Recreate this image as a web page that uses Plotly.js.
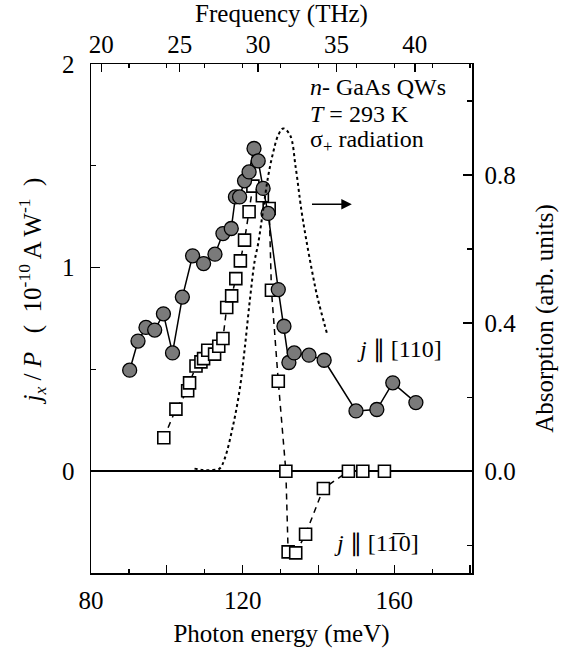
<!DOCTYPE html>
<html>
<head>
<meta charset="utf-8">
<script src="https://cdn.plot.ly/plotly-3.0.1.min.js"></script>
<style>html,body{margin:0;padding:0;background:#fff;}#chart{width:570px;height:652px;}</style>
</head>
<body>
<div id="chart"></div>
<script>
// j || [110] (filled circles)
const energyCirc = [90.2, 92.4, 94.5, 96.8, 99.1, 101.5, 104.1, 106.8, 109.7, 112.7, 114.8, 117.0, 118.1, 119.2, 120.5, 121.7, 123.0, 124.1, 125.4, 126.7, 129.4, 130.9, 132.2, 133.6, 137.5, 141.5, 149.9, 155.4, 159.6, 165.7];
const jCirc = [0.496, 0.639, 0.706, 0.693, 0.773, 0.581, 0.855, 1.058, 1.02, 1.066, 1.167, 1.192, 1.347, 1.347, 1.426, 1.47, 1.585, 1.524, 1.389, 1.266, 0.892, 0.712, 0.534, 0.581, 0.57, 0.545, 0.296, 0.303, 0.434, 0.337];
// j || [1-10] (open squares)
const energySq = [99.2, 102.4, 105.5, 106.0, 107.7, 109.0, 109.7, 110.8, 112.6, 113.7, 114.8, 115.8, 117.1, 118.2, 119.4, 120.5, 121.7, 122.7, 125.2, 127.0, 127.6, 129.4, 131.4, 132.0, 134.0, 136.6, 141.3, 147.9, 151.7, 157.4];
const jSq = [0.164, 0.305, 0.395, 0.434, 0.517, 0.537, 0.553, 0.594, 0.575, 0.614, 0.652, 0.804, 0.861, 0.946, 1.033, 1.135, 1.274, 1.40, 1.353, 1.29, 0.889, 0.442, 0.0, -0.396, -0.401, -0.31, -0.085, 0.0, 0.0, 0.0];
// absorption (dotted)
const energyAbs = [107.3, 109.5, 111.5, 113.9, 115.2, 117.4, 119.2, 120.5, 121.9, 123.2, 124.1, 125.4, 126.7, 128.0, 129.4, 130.7, 132.5, 134.0, 135.5, 136.8, 138.6, 139.7, 142.3];
const absorption = [0.007, 0.003, 0.003, 0.007, 0.032, 0.12, 0.219, 0.327, 0.462, 0.57, 0.615, 0.705, 0.795, 0.859, 0.908, 0.926, 0.908, 0.82, 0.705, 0.624, 0.525, 0.471, 0.37];
// axis ticks
const energyTicks = [80, 100, 120, 140, 160, 180];
const energyTickText = ['80', '', '120', '', '160', ''];
const freqTicks = [20, 25, 30, 35, 40];
const jTicks = [0, 1, 2];
const absTicks = [0, 0.4, 0.8];
const meVperTHz = 4.1357;
const xRange = [80, 180.5];
const freqRange = [xRange[0] / meVperTHz, xRange[1] / meVperTHz];

const FONT = '"Liberation Serif", "Times New Roman", serif';
const FS = 25;
const FA = 24;

const traces = [
  {x: energyAbs, y: absorption, xaxis: 'x', yaxis: 'y2', mode: 'lines', type: 'scatter',
   line: {color: '#000', width: 2, dash: 'dot', shape: 'spline'}, hoverinfo: 'skip'},
  {x: energySq, y: jSq, xaxis: 'x', yaxis: 'y', mode: 'lines+markers', type: 'scatter',
   line: {color: '#000', width: 1.5, dash: '6px,5px'},
   marker: {symbol: 'square', size: 12, color: '#fff', line: {color: '#000', width: 1.6}}},
  {x: energyCirc, y: jCirc, xaxis: 'x', yaxis: 'y', mode: 'lines+markers', type: 'scatter',
   line: {color: '#000', width: 1.5},
   marker: {symbol: 'circle', size: 14, color: '#7a7a7a', line: {color: '#000', width: 1.3}}},
  // invisible carriers so the top axes get drawn
  {x: freqRange, y: [null, null], xaxis: 'x2', yaxis: 'y', mode: 'markers', type: 'scatter', hoverinfo: 'skip', marker: {opacity: 0}},
  {x: xRange, y: [null, null], xaxis: 'x3', yaxis: 'y', mode: 'markers', type: 'scatter', hoverinfo: 'skip', marker: {opacity: 0}}
];

const layout = {
  width: 570, height: 652,
  margin: {l: 91, r: 98, t: 64, b: 79},
  paper_bgcolor: '#fff', plot_bgcolor: '#fff',
  showlegend: false,
  font: {family: FONT, size: FS, color: '#000'},
  xaxis: {
    range: xRange, tickvals: energyTicks, ticktext: energyTickText,
    ticks: 'inside', ticklen: 8, tickwidth: 1.3, tickcolor: '#000',
    minor: {dtick: 10, ticklen: 4, tickwidth: 1.3, tickcolor: '#000', ticks: 'inside'},
    showline: true, linecolor: '#000', linewidth: 1.5, showgrid: false, zeroline: false,
    title: {text: 'Photon energy (meV)', font: {family: FONT, size: FS}, standoff: 12},
    tickfont: {family: FONT, size: FS}, ticklabelstandoff: 4
  },
  xaxis2: {
    overlaying: 'x', side: 'top', anchor: 'y',
    range: freqRange,
    tickvals: freqTicks, ticks: 'inside', ticklen: 8, tickwidth: 1.3, tickcolor: '#000',
    showline: true, linecolor: '#000', linewidth: 1.5, showgrid: false, zeroline: false,
    title: {text: 'Frequency (THz)', font: {family: FONT, size: FS}, standoff: 4},
    tickfont: {family: FONT, size: FS}
  },
  xaxis3: {
    overlaying: 'x', side: 'top', anchor: 'y', range: xRange,
    dtick: 10, tick0: 80, ticks: 'inside', ticklen: 4, tickwidth: 1.3, tickcolor: '#000',
    showticklabels: false, showline: false, showgrid: false, zeroline: false
  },
  yaxis: {
    range: [-0.5, 2], tickvals: jTicks,
    ticks: 'inside', ticklen: 9, tickwidth: 1.3, tickcolor: '#000',
    minor: {dtick: 0.5, ticklen: 5, tickwidth: 1.3, tickcolor: '#000', ticks: 'inside'},
    showline: true, linecolor: '#000', linewidth: 1.5, showgrid: false,
    zeroline: true, zerolinecolor: '#000', zerolinewidth: 1.8,
    tickfont: {family: FONT, size: FS}, ticklabelstandoff: 10
  },
  yaxis2: {
    overlaying: 'y', side: 'right', anchor: 'x',
    range: [-0.275, 1.1], tickvals: absTicks, tickformat: '.1f',
    ticks: 'inside', ticklen: 9, tickwidth: 1.3, tickcolor: '#000',
    minor: {dtick: 0.2, ticklen: 5, tickwidth: 1.3, tickcolor: '#000', ticks: 'inside'},
    showline: true, linecolor: '#000', linewidth: 1.5, showgrid: false, zeroline: false,
    title: {text: 'Absorption (arb. units)', font: {family: FONT, size: FS}, standoff: 20},
    tickfont: {family: FONT, size: FS}, ticklabelstandoff: 6
  },
  annotations: [
    {x: -0.155, y: 0.555, xref: 'paper', yref: 'paper', textangle: -90, showarrow: false, xanchor: 'center', yanchor: 'middle',
     text: '<i>j</i><sub><i>x</i></sub> / <i>P</i>\u00A0\u00A0 (\u00A0 10<sup>-10</sup> A W<sup>-1</sup>\u00A0 )', font: {family: FONT, size: FS}},
    {x: 137.2, y: 1.885, xref: 'x', yref: 'y', text: '<i>n</i>- GaAs QWs', showarrow: false, xanchor: 'left', yanchor: 'middle', font: {family: FONT, size: FA}},
    {x: 137.2, y: 1.755, xref: 'x', yref: 'y', text: '<i>T</i> = 293 K', showarrow: false, xanchor: 'left', yanchor: 'middle', font: {family: FONT, size: FA}},
    {x: 137.2, y: 1.62, xref: 'x', yref: 'y', text: 'σ<sub>+</sub> radiation', showarrow: false, xanchor: 'left', yanchor: 'middle', font: {family: FONT, size: FA}},
    {x: 148.8, y: 1.311, ax: 137.9, ay: 1.311, xref: 'x', yref: 'y', axref: 'x', ayref: 'y', text: '', showarrow: true, arrowhead: 2, arrowsize: 1.4, arrowwidth: 1.5, arrowcolor: '#000'},
    {x: 161.5, y: 0.6, xref: 'x', yref: 'y', text: '<i>j</i> ∥ [110]', showarrow: false, xanchor: 'center', yanchor: 'middle', font: {family: FONT, size: FA}},
    {x: 155.4, y: -0.354, xref: 'x', yref: 'y', text: '<i>j</i> ∥ [11\u03050]', showarrow: false, xanchor: 'center', yanchor: 'middle', font: {family: FONT, size: FA}}
  ]
};

Plotly.newPlot('chart', traces, layout, {displayModeBar: false, staticPlot: true});
</script>
</body>
</html>
